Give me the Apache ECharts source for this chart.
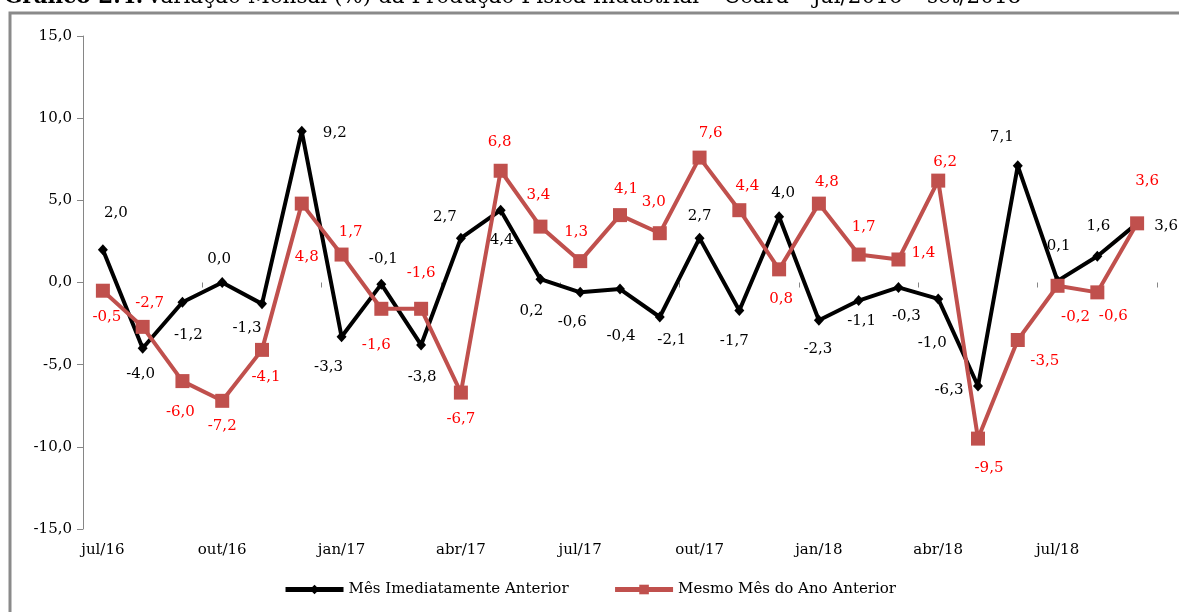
<!DOCTYPE html>
<html>
<head>
<meta charset="utf-8">
<script src="https://cdn.jsdelivr.net/npm/echarts@6/dist/echarts.min.js"></script>
<style>
  html, body { margin: 0; padding: 0; background: #fff; }
  #chart { width: 1179px; height: 612px; }
</style>
</head>
<body>
<div id="chart"></div>
<script>
// Produção física industrial do Ceará, variação mensal (%)
const months = ['jul/16','ago/16','set/16','out/16','nov/16','dez/16',
  'jan/17','fev/17','mar/17','abr/17','mai/17','jun/17','jul/17','ago/17','set/17','out/17','nov/17','dez/17',
  'jan/18','fev/18','mar/18','abr/18','mai/18','jun/18','jul/18','ago/18','set/18'];

const mesImediatamenteAnterior = [2.0, -4.0, -1.2, 0.0, -1.3, 9.2,
  -3.3, -0.1, -3.8, 2.7, 4.4, 0.2, -0.6, -0.4, -2.1, 2.7, -1.7, 4.0,
  -2.3, -1.1, -0.3, -1.0, -6.3, 7.1, 0.1, 1.6, 3.6];

const mesmoMesAnoAnterior = [-0.5, -2.7, -6.0, -7.2, -4.1, 4.8,
  1.7, -1.6, -1.6, -6.7, 6.8, 3.4, 1.3, 4.1, 3.0, 7.6, 4.4, 0.8,
  4.8, 1.7, 1.4, 6.2, -9.5, -3.5, -0.2, -0.6, 3.6];

const yMin = -15, yMax = 15, yStep = 5;

// label placement around each point, [dx, dy] in px
const blackLabelOffset = [[13,-37],[-2,26],[6,33],[-3,-23],[-15,24],[33,2],
  [-13,30],[2,-25],[1,32],[-16,-21],[1,30],[-9,32],[-8,30],[1,47],[12,23],[0,-22],[-5,31],[4,-24],
  [-1,29],[3,21],[8,29],[-6,44],[-29,4],[-16,-29],[1,-35],[1,-30],[29,3]];
const redLabelOffset = [[4,26],[7,-24],[-2,31],[0,25],[4,27],[5,53],
  [9,-22],[-5,36],[0,-36],[0,27],[-1,-29],[-2,-32],[-4,-29],[6,-26],[-6,-31],[11,-24],[8,-24],[2,30],
  [8,-22],[5,-27],[25,-6],[7,-19],[11,29],[27,21],[18,31],[16,24],[10,-42]];

const FONT = 'DejaVu Serif';
const fmt = v => Number(v).toFixed(1).replace('.', ',');

const chart = echarts.init(document.getElementById('chart'), null, { renderer: 'canvas' });

function buildData(values, offsets) {
  return values.map((v, i) => ({ value: v, label: { offset: offsets[i] } }));
}

chart.setOption({
  animation: false,
  backgroundColor: '#fff',
  grid: { left: 83, right: 22, top: 36, bottom: 83, containLabel: false },
  graphic: [
    {
      type: 'rect', silent: true, z: 0,
      shape: { x: 10, y: 13, width: 1300, height: 800 },
      style: { fill: 'none', stroke: '#8a8a8a', lineWidth: 3 }
    },
    {
      type: 'text', silent: true, left: 4, top: -14,
      style: {
        rich: {
          b: { fontFamily: FONT, fontSize: 21.5, fontWeight: 'bold', fill: '#000' },
          n: { fontFamily: FONT, fontSize: 21.5, fill: '#000' }
        },
        text: '{b|Gráfico 2.4:} {n|Variação Mensal (%) da Produção Física Industrial – Ceará – jul/2016 – set/2018}'
      }
    }
  ],
  legend: {
    bottom: 10,
    left: 'center',
    itemWidth: 58,
    itemHeight: 12,
    itemGap: 44,
    lineStyle: { width: 5 },
    textStyle: { fontFamily: FONT, fontSize: 15, color: '#000' },
    data: ['Mês Imediatamente Anterior', 'Mesmo Mês do Ano Anterior']
  },
  xAxis: [
    {
      type: 'category', data: months, position: 'bottom', boundaryGap: true,
      axisLine: { show: false, onZero: false },
      axisTick: { show: false },
      axisLabel: { interval: 2, margin: 14, fontFamily: FONT, fontSize: 15, color: '#000' }
    },
    {
      type: 'category', data: months, position: 'top', boundaryGap: true,
      axisLine: { show: true, onZero: true, lineStyle: { color: 'rgba(0,0,0,0)' } },
      axisTick: { show: true, inside: true, interval: 2, length: 5, lineStyle: { color: '#868686', width: 1 } },
      axisLabel: { show: false }
    }
  ],
  yAxis: {
    type: 'value', min: yMin, max: yMax, interval: yStep,
    axisLine: { show: true, lineStyle: { color: '#868686', width: 1 } },
    axisTick: { show: true, length: 6, lineStyle: { color: '#868686' } },
    splitLine: { show: false },
    axisLabel: { margin: 11, fontFamily: FONT, fontSize: 15, color: '#000', formatter: fmt }
  },
  series: [
    {
      name: 'Mês Imediatamente Anterior', type: 'line', xAxisIndex: 0,
      data: buildData(mesImediatamenteAnterior, blackLabelOffset),
      symbol: 'diamond', symbolSize: [10, 11], showAllSymbol: true,
      lineStyle: { color: '#000', width: 4 },
      itemStyle: { color: '#000' },
      label: {
        show: true, position: 'inside', align: 'center', verticalAlign: 'middle',
        fontFamily: FONT, fontSize: 15, color: '#000',
        formatter: p => fmt(p.value)
      },
      z: 2
    },
    {
      name: 'Mesmo Mês do Ano Anterior', type: 'line', xAxisIndex: 0,
      data: buildData(mesmoMesAnoAnterior, redLabelOffset),
      symbol: 'rect', symbolSize: 14, showAllSymbol: true,
      lineStyle: { color: '#c0504d', width: 4 },
      itemStyle: { color: '#c0504d' },
      label: {
        show: true, position: 'inside', align: 'center', verticalAlign: 'middle',
        fontFamily: FONT, fontSize: 15, color: '#ff0000',
        formatter: p => fmt(p.value)
      },
      z: 3
    }
  ]
});
</script>
</body>
</html>
